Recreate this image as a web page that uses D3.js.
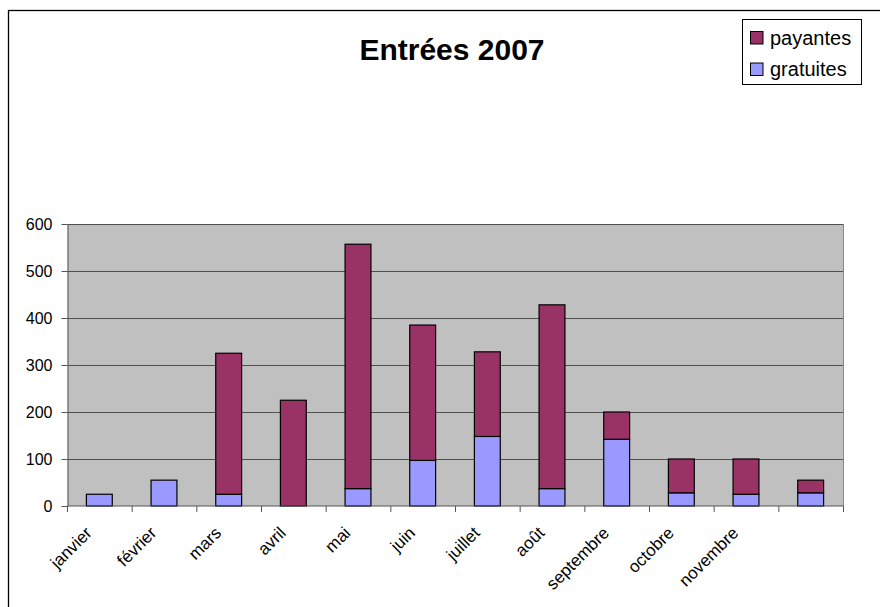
<!DOCTYPE html>
<html>
<head>
<meta charset="utf-8">
<script src="https://cdn.jsdelivr.net/npm/d3@7"></script>
<style>
  html, body { margin: 0; padding: 0; background: #fff; }
  svg { display: block; font-family: "Liberation Sans", Arial, sans-serif; }
</style>
</head>
<body>
<svg id="chart" width="880" height="607"></svg>
<script>
const categories = ["janvier", "février", "mars", "avril", "mai", "juin", "juillet", "août", "septembre", "octobre", "novembre", ""];
const gratuites = [25, 55, 25, 0, 37, 97, 148, 37, 142, 28, 25, 28];
const payantes = [0, 0, 300, 225, 520, 288, 180, 391, 58, 72, 75, 27];
const yTicks = [0, 100, 200, 300, 400, 500, 600];
const seriesNames = ["payantes", "gratuites"];
const colors = { payantes: "#993366", gratuites: "#9999FF" };

const svg = d3.select("#chart");
const plot = { left: 67.5, right: 843.5, top: 224, bottom: 506 };

// outer frame (extends beyond window on right and bottom)
svg.append("rect")
  .attr("x", 8.5).attr("y", 10.5)
  .attr("width", 900).attr("height", 700)
  .attr("fill", "#fff").attr("stroke", "#000").attr("stroke-width", 1.3);

const x = d3.scaleBand().domain(d3.range(categories.length))
  .range([plot.left, plot.right]).paddingInner(0).paddingOuter(0);
const y = d3.scaleLinear().domain([0, 600]).range([plot.bottom, plot.top]);

// plot area
svg.append("rect")
  .attr("x", plot.left).attr("y", plot.top)
  .attr("width", plot.right - plot.left).attr("height", plot.bottom - plot.top)
  .attr("fill", "#C0C0C0");

// gridlines
svg.append("g").selectAll("line").data(yTicks.filter(d => d > 0)).join("line")
  .attr("x1", plot.left).attr("x2", plot.right)
  .attr("y1", d => Math.round(y(d)) + 0.5).attr("y2", d => Math.round(y(d)) + 0.5)
  .attr("stroke", "#505050").attr("stroke-width", 1.2);

// right border of plot area
svg.append("line")
  .attr("x1", plot.right).attr("x2", plot.right)
  .attr("y1", plot.top).attr("y2", plot.bottom)
  .attr("stroke", "#888").attr("stroke-width", 1);

// stacked data
const rows = categories.map((c, i) => ({ i, gratuites: gratuites[i], payantes: payantes[i] }));
const stack = d3.stack().keys(["gratuites", "payantes"])(rows);

const barW = x.bandwidth() * 0.4;
stack.forEach(layer => {
  svg.append("g").selectAll("rect")
    .data(layer.filter(d => d[1] - d[0] > 0)).join("rect")
    .attr("x", d => x(d.data.i) + (x.bandwidth() - barW) / 2 - 0.5)
    .attr("y", d => y(d[1]))
    .attr("width", barW)
    .attr("height", d => y(d[0]) - y(d[1]))
    .attr("fill", colors[layer.key])
    .attr("stroke", "#000").attr("stroke-width", 1.2);
});

// y axis
const yAxis = d3.axisLeft(y).tickValues(yTicks).tickSize(6).tickPadding(9).tickSizeOuter(0);
const gy = svg.append("g").attr("transform", `translate(${plot.left},0)`).call(yAxis);
gy.select(".domain").attr("stroke", "#555");
gy.selectAll(".tick line").attr("stroke", "#555");
gy.selectAll(".tick text").attr("font-size", 16).attr("fill", "#000")
  .attr("font-family", "Liberation Sans, Arial, sans-serif");

// x axis (ticks at category boundaries)
const gx = svg.append("g").attr("transform", `translate(0,${plot.bottom})`);
gx.append("line").attr("x1", plot.left).attr("x2", plot.right).attr("y1", 0).attr("y2", 0)
  .attr("stroke", "#555").attr("stroke-width", 1);
const bounds = d3.range(categories.length + 1).map(i => i < categories.length ? x(i) : plot.right);
gx.selectAll("line.tk").data(bounds).join("line").attr("class", "tk")
  .attr("x1", d => d).attr("x2", d => d).attr("y1", 0).attr("y2", 6)
  .attr("stroke", "#555");
gx.selectAll("text").data(categories).join("text")
  .attr("transform", (d, i) => `translate(${x(i) + x.bandwidth() / 2 - 7},${28}) rotate(-45)`)
  .attr("text-anchor", "end")
  .attr("font-size", 17)
  .attr("fill", "#000")
  .text(d => d);

// title
svg.append("text")
  .attr("x", 452).attr("y", 60)
  .attr("text-anchor", "middle")
  .attr("font-size", 30).attr("font-weight", "bold")
  .text("Entrées 2007");

// legend
const lg = svg.append("g");
lg.append("rect").attr("x", 742.5).attr("y", 19.5).attr("width", 119).attr("height", 65)
  .attr("fill", "#fff").attr("stroke", "#000").attr("stroke-width", 1);
seriesNames.forEach((s, k) => {
  const cy = 38 + k * 31.5;
  lg.append("rect").attr("x", 750.5).attr("y", cy - 6.5).attr("width", 12.5).attr("height", 12.5)
    .attr("fill", colors[s]).attr("stroke", "#000").attr("stroke-width", 1);
  lg.append("text").attr("x", 770).attr("y", cy + 6.5)
    .attr("font-size", 20).attr("fill", "#000").text(s);
});
</script>
</body>
</html>
